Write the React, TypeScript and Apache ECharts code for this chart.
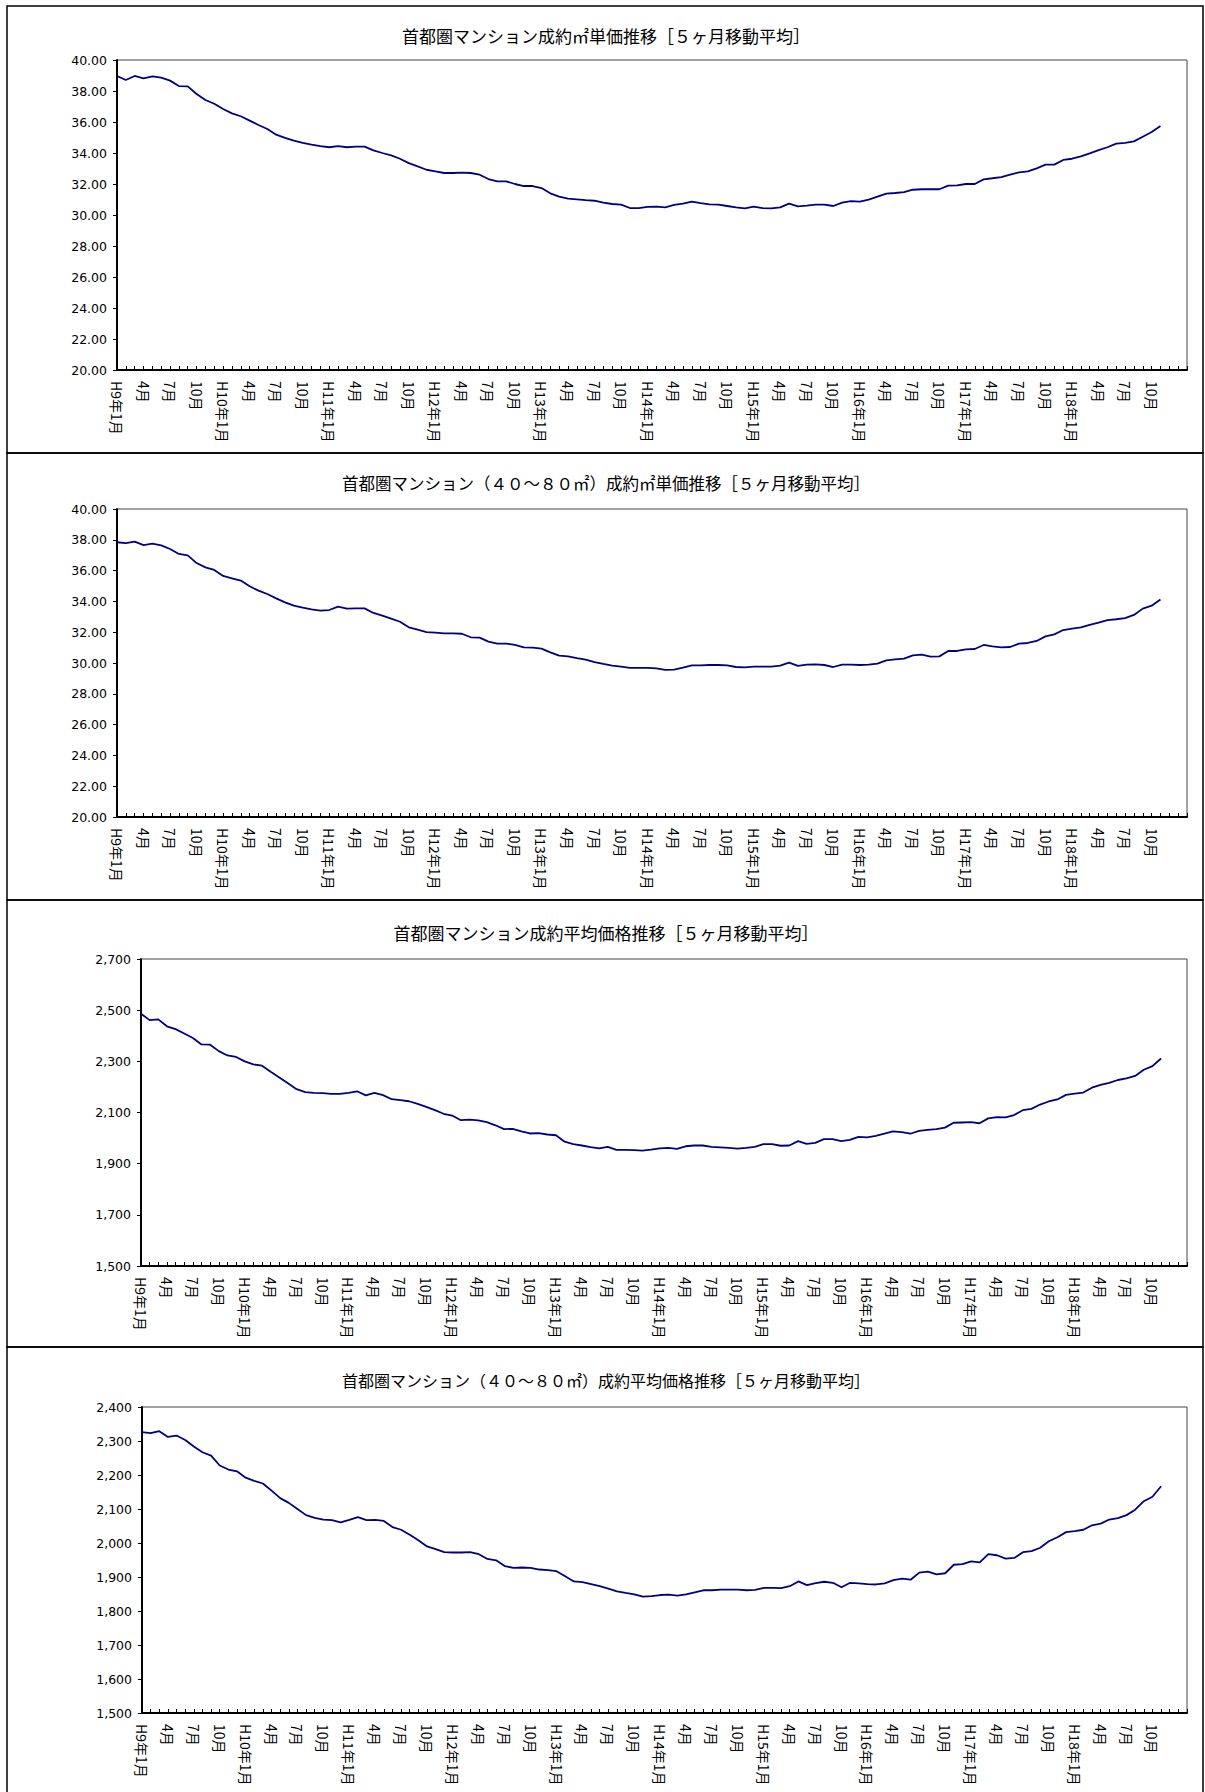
import React, { useEffect, useRef } from "react";
import * as echarts from "echarts";

// ---- data ----
const ERA_YEARS = ["H9", "H10", "H11", "H12", "H13", "H14", "H15", "H16", "H17", "H18"];
const MONTH_NAMES = ["1月", "2月", "3月", "4月", "5月", "6月", "7月", "8月", "9月", "10月", "11月", "12月"];
const TRAILING_BLANK_CATEGORIES = ["", ""];

const TITLES = [
  "首都圏マンション成約㎡単価推移［５ヶ月移動平均］",
  "首都圏マンション（４０～８０㎡）成約㎡単価推移［５ヶ月移動平均］",
  "首都圏マンション成約平均価格推移［５ヶ月移動平均］",
  "首都圏マンション（４０～８０㎡）成約平均価格推移［５ヶ月移動平均］",
];

const SQM_PRICE_ALL = [
  38.97, 38.71, 38.97, 38.82, 38.95, 38.86, 38.67, 38.32, 38.30, 37.81,
  37.42, 37.18, 36.84, 36.56, 36.37, 36.09, 35.81, 35.55, 35.18, 34.97,
  34.80, 34.65, 34.54, 34.45, 34.37, 34.45, 34.37, 34.41, 34.41, 34.17,
  34.00, 33.85, 33.63, 33.35, 33.14, 32.92, 32.82, 32.71, 32.71, 32.73,
  32.71, 32.60, 32.32, 32.17, 32.17, 32.00, 31.87, 31.87, 31.74, 31.40,
  31.18, 31.05, 31.01, 30.96, 30.92, 30.80, 30.71, 30.67, 30.45, 30.45,
  30.52, 30.54, 30.49, 30.65, 30.73, 30.86, 30.77, 30.69, 30.67, 30.58,
  30.49, 30.43, 30.54, 30.45, 30.43, 30.49, 30.73, 30.56, 30.60, 30.67,
  30.67, 30.58, 30.80, 30.90, 30.86, 30.99, 31.18, 31.38, 31.42, 31.48,
  31.63, 31.66, 31.66, 31.66, 31.89, 31.91, 32.00, 32.00, 32.30, 32.37,
  32.45, 32.60, 32.75, 32.82, 33.01, 33.25, 33.25, 33.55, 33.63, 33.78,
  33.98, 34.19, 34.37, 34.60, 34.65, 34.75, 35.05, 35.35, 35.74,
];

const SQM_PRICE_40_80 = [
  37.84, 37.79, 37.88, 37.66, 37.75, 37.64, 37.40, 37.08, 36.99, 36.49,
  36.21, 36.04, 35.65, 35.50, 35.35, 34.98, 34.70, 34.48, 34.20, 33.94,
  33.72, 33.59, 33.48, 33.40, 33.44, 33.66, 33.53, 33.55, 33.55, 33.25,
  33.07, 32.88, 32.68, 32.32, 32.16, 32.01, 31.97, 31.93, 31.93, 31.90,
  31.67, 31.65, 31.39, 31.26, 31.26, 31.17, 31.02, 31.00, 30.93, 30.69,
  30.48, 30.43, 30.32, 30.22, 30.06, 29.94, 29.83, 29.76, 29.68, 29.68,
  29.68, 29.65, 29.55, 29.57, 29.70, 29.85, 29.85, 29.87, 29.87, 29.85,
  29.74, 29.72, 29.76, 29.76, 29.76, 29.83, 30.02, 29.81, 29.89, 29.91,
  29.87, 29.74, 29.89, 29.89, 29.87, 29.89, 29.96, 30.17, 30.24, 30.28,
  30.50, 30.54, 30.41, 30.43, 30.78, 30.78, 30.89, 30.91, 31.17, 31.08,
  31.02, 31.04, 31.26, 31.30, 31.43, 31.73, 31.86, 32.14, 32.23, 32.32,
  32.47, 32.62, 32.79, 32.84, 32.92, 33.12, 33.53, 33.72, 34.13,
];

const AVG_PRICE_ALL = [
  2486, 2461, 2464, 2437, 2426, 2409, 2391, 2366, 2365, 2340,
  2323, 2317, 2300, 2288, 2283, 2259, 2237, 2214, 2191, 2180,
  2177, 2176, 2173, 2173, 2177, 2183, 2167, 2177, 2168, 2152,
  2148, 2144, 2134, 2122, 2109, 2095, 2088, 2070, 2072, 2069,
  2062, 2050, 2035, 2036, 2026, 2018, 2019, 2014, 2011, 1986,
  1976, 1971, 1965, 1960, 1966, 1954, 1954, 1953, 1951, 1955,
  1960, 1962, 1958, 1968, 1971, 1971, 1966, 1964, 1962, 1959,
  1962, 1966, 1976, 1976, 1970, 1971, 1988, 1977, 1981, 1996,
  1996, 1988, 1993, 2005, 2003, 2009, 2017, 2026, 2023, 2017,
  2028, 2032, 2035, 2041, 2060, 2061, 2062, 2058, 2077, 2082,
  2081, 2090, 2109, 2114, 2131, 2143, 2151, 2169, 2174, 2178,
  2197, 2208, 2216, 2227, 2233, 2243, 2267, 2281, 2311,
];

const AVG_PRICE_40_80 = [
  2326, 2323, 2329, 2312, 2316, 2303, 2284, 2267, 2257, 2228,
  2216, 2211, 2192, 2183, 2175, 2154, 2132, 2118, 2100, 2082,
  2074, 2069, 2067, 2061, 2068, 2076, 2067, 2068, 2065, 2047,
  2039, 2024, 2008, 1990, 1982, 1973, 1972, 1972, 1973, 1967,
  1953, 1949, 1932, 1927, 1928, 1927, 1922, 1920, 1917, 1902,
  1887, 1885, 1879, 1873, 1866, 1858, 1853, 1849, 1842, 1844,
  1847, 1848, 1845, 1849, 1855, 1861, 1861, 1863, 1863, 1863,
  1861, 1862, 1868, 1868, 1867, 1873, 1887, 1876, 1882, 1886,
  1883, 1870, 1883, 1881, 1879, 1878, 1881, 1891, 1895, 1892,
  1913, 1916, 1908, 1911, 1936, 1938, 1946, 1943, 1967, 1964,
  1954, 1956, 1973, 1976, 1986, 2005, 2017, 2032, 2035, 2039,
  2052, 2057, 2069, 2073, 2082, 2098, 2123, 2136, 2167,
];

const Y_RANGES = [
  { min: 20, max: 40, interval: 2, decimals: 2 },
  { min: 20, max: 40, interval: 2, decimals: 2 },
  { min: 1500, max: 2700, interval: 200, decimals: 0 },
  { min: 1500, max: 2400, interval: 100, decimals: 0 },
];

const SERIES_DATA = [SQM_PRICE_ALL, SQM_PRICE_40_80, AVG_PRICE_ALL, AVG_PRICE_40_80];

// ---- layout (page pixels) ----
const W = 1205;
const H = 1792;
const PANEL_TOP0 = 6;
const PANEL_H = 447;
const GRIDS = [
  { left: 117, top: 60, width: 1070, height: 310 },
  { left: 117, top: 509, width: 1070, height: 308 },
  { left: 141, top: 959, width: 1046, height: 307 },
  { left: 142, top: 1407, width: 1045, height: 306 },
];
const TITLE_CENTERS_Y = [36.5, 484, 933, 1381];
const TITLE_CENTER_X = 606;
const TITLE_SIZES = [17, 16.5, 17, 16];

function buildCategories(): string[] {
  const cats: string[] = [];
  ERA_YEARS.forEach((y) => {
    MONTH_NAMES.forEach((m, i) => {
      cats.push(i === 0 ? `${y}年${m}` : m);
    });
  });
  return cats.concat(TRAILING_BLANK_CATEGORIES);
}

function fmt(v: number, decimals: number): string {
  if (decimals > 0) return v.toFixed(decimals);
  return Math.round(v).toLocaleString("en-US");
}

export default function App() {
  const ref = useRef<HTMLDivElement>(null);

  useEffect(() => {
    document.body.style.overflow = "hidden";
    if (!ref.current) return;
    const chart = echarts.init(ref.current, undefined, { renderer: "svg" });
    const categories = buildCategories();
    const jpFont = "'Noto Sans CJK JP', 'Noto Sans', sans-serif";
    const numFont = "'DejaVu Sans', 'Liberation Sans', sans-serif";

    const option: any = {
      animation: false,
      backgroundColor: "#ffffff",
      title: TITLES.map((t, i) => ({
        text: t,
        left: TITLE_CENTER_X,
        textAlign: "center",
        top: TITLE_CENTERS_Y[i] - TITLE_SIZES[i] / 2 - 1,
        padding: 0,
        textStyle: { fontFamily: jpFont, fontSize: TITLE_SIZES[i], fontWeight: "normal", color: "#000" },
      })),
      grid: GRIDS.map((g) => ({
        left: g.left,
        top: g.top,
        width: g.width,
        height: g.height,
        show: true,
        borderColor: "#444",
        borderWidth: 1,
        backgroundColor: "transparent",
        containLabel: false,
      })),
      xAxis: GRIDS.map((_, i) => ({
        type: "category",
        gridIndex: i,
        data: categories,
        boundaryGap: false,
        axisLine: { show: true, lineStyle: { color: "#000", width: 2 } },
        axisTick: { show: true, inside: true, length: 4, interval: 0, lineStyle: { color: "#000", width: 1 } },
        axisLabel: {
          interval: 2,
          rotate: -90,
          margin: 11,
          fontFamily: jpFont,
          fontSize: 14,
          color: "#000",
        },
        splitLine: { show: false },
      })),
      yAxis: Y_RANGES.map((r, i) => ({
        type: "value",
        gridIndex: i,
        min: r.min,
        max: r.max,
        interval: r.interval,
        axisLine: { show: true, lineStyle: { color: "#000", width: 2 } },
        axisTick: { show: true, inside: false, length: 4, lineStyle: { color: "#000", width: 1 } },
        axisLabel: {
          margin: 10,
          fontFamily: numFont,
          fontSize: 12.5,
          color: "#000",
          formatter: (v: number) => fmt(v, r.decimals),
        },
        splitLine: { show: false },
      })),
      series: SERIES_DATA.map((d, i) => ({
        type: "line",
        xAxisIndex: i,
        yAxisIndex: i,
        data: d,
        symbol: "none",
        showSymbol: false,
        lineStyle: { color: "#000080", width: 1.8 },
        z: 3,
      })),
      graphic: [0, 1, 2, 3].map((i) => ({
        type: "rect",
        shape: { x: 7, y: PANEL_TOP0 + PANEL_H * i, width: W - 9, height: PANEL_H },
        style: { fill: "none", stroke: "#000", lineWidth: 1.5 },
        silent: true,
        z: 0,
      })),
    };
    chart.setOption(option);
    return () => chart.dispose();
  }, []);

  return (
    <div
      ref={ref}
      style={{ position: "absolute", left: 0, top: 0, width: W, height: H, background: "#fff" }}
    />
  );
}
